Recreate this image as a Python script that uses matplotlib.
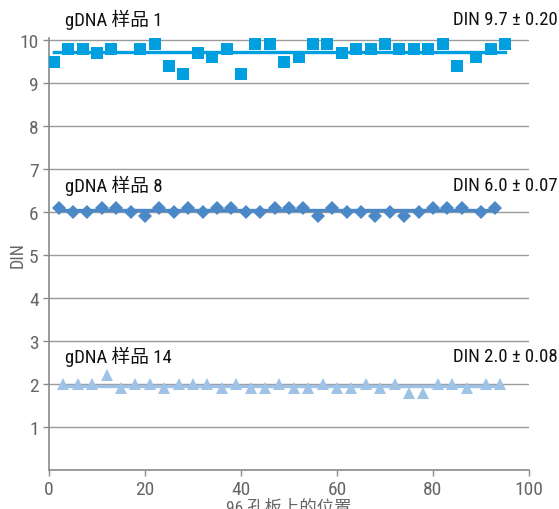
import matplotlib
matplotlib.use("Agg")
import matplotlib.pyplot as plt

plt.rcParams['font.family'] = ['Roboto Condensed', 'Noto Sans CJK SC', 'DejaVu Sans']

# DIN values read per well position (three samples interleaved on the plate)
pos_s1 = [1, 4, 7, 10, 13, 19, 22, 25, 28, 31, 34, 37, 40, 43, 46, 49,
          52, 55, 58, 61, 64, 67, 70, 73, 76, 79, 82, 85, 89, 92, 95]
din_s1 = [9.5, 9.8, 9.8, 9.7, 9.8, 9.8, 9.9, 9.4, 9.2, 9.7, 9.6, 9.8, 9.2, 9.9, 9.9, 9.5,
          9.6, 9.9, 9.9, 9.7, 9.8, 9.8, 9.9, 9.8, 9.8, 9.8, 9.9, 9.4, 9.6, 9.8, 9.9]

pos_s8 = [2, 5, 8, 11, 14, 17, 20, 23, 26, 29, 32, 35, 38, 41, 44, 47,
          50, 53, 56, 59, 62, 65, 68, 71, 74, 77, 80, 83, 86, 90, 93]
din_s8 = [6.1, 6.0, 6.0, 6.1, 6.1, 6.0, 5.9, 6.1, 6.0, 6.1, 6.0, 6.1, 6.1, 6.0, 6.0, 6.1,
          6.1, 6.1, 5.9, 6.1, 6.0, 6.0, 5.9, 6.0, 5.9, 6.0, 6.1, 6.1, 6.1, 6.0, 6.1]

pos_s14 = [3, 6, 9, 12, 15, 18, 21, 24, 27, 30, 33, 36, 39, 42, 45, 48,
           51, 54, 57, 60, 63, 66, 69, 72, 75, 78, 81, 84, 87, 91, 94]
din_s14 = [2.0, 2.0, 2.0, 2.2, 1.9, 2.0, 2.0, 1.9, 2.0, 2.0, 2.0, 1.9, 2.0, 1.9, 1.9, 2.0,
           1.9, 1.9, 2.0, 1.9, 1.9, 2.0, 1.9, 2.0, 1.8, 1.8, 2.0, 2.0, 1.9, 2.0, 2.0]

noms = ["gDNA 样品 1", "gDNA 样品 8", "gDNA 样品 14"]
resums = ["DIN 9.7 ± 0.20", "DIN 6.0 ± 0.07", "DIN 2.0 ± 0.08"]

# marker, colour, size, height of the caption row
series = [
    (pos_s1, din_s1, 's', '#009fe0', 8.6, 10.5),
    (pos_s8, din_s8, 'D', '#4a88c8', 7.5, 6.63),
    (pos_s14, din_s14, '^', '#9fc3e7', 8.5, 2.65),
]

fig = plt.figure(figsize=(5.59, 5.10), dpi=100)
ax = fig.add_axes([0.0877, 0.0765, 0.8586, 0.8473])

for (x, y, marker, color, ms, y_txt), nom, resum in zip(series, noms, resums):
    mitjana = sum(y) / len(y)
    ax.plot([x[0], x[-1]], [mitjana, mitjana], color=color, lw=2.4, zorder=3)
    ax.plot(x, y, linestyle='none', marker=marker, color=color, ms=ms,
            markeredgewidth=0, zorder=4)
    ax.text(3.3, y_txt, nom, fontsize=13.5, color='#111111', va='center', ha='left',
            clip_on=False)
    ax.text(105.9, y_txt, resum, fontsize=13.5, color='#111111', va='center', ha='right',
            clip_on=False)

ax.set_xlim(0, 100)
ax.set_ylim(0, 10.05)
ax.set_xticks(range(0, 101, 20))
ax.set_yticks(range(1, 11))
ax.yaxis.grid(True, color='#9a9a9a', lw=1.0)
ax.set_axisbelow(True)
for s in ['top', 'right']:
    ax.spines[s].set_visible(False)
for s in ['left', 'bottom']:
    ax.spines[s].set_color('#8a8a8a')
    ax.spines[s].set_linewidth(1.2)
ax.tick_params(colors='#8a8a8a', labelcolor='#666666', labelsize=14, length=4, width=1)
ax.set_xlabel("96 孔板上的位置", fontsize=12.5, color='#666666')
ax.xaxis.set_label_coords(0.5, -0.066)
ax.set_ylabel("DIN", fontsize=13, color='#666666')
ax.yaxis.set_label_coords(-0.046, 0.5)

fig.savefig("out.png", dpi=100)
